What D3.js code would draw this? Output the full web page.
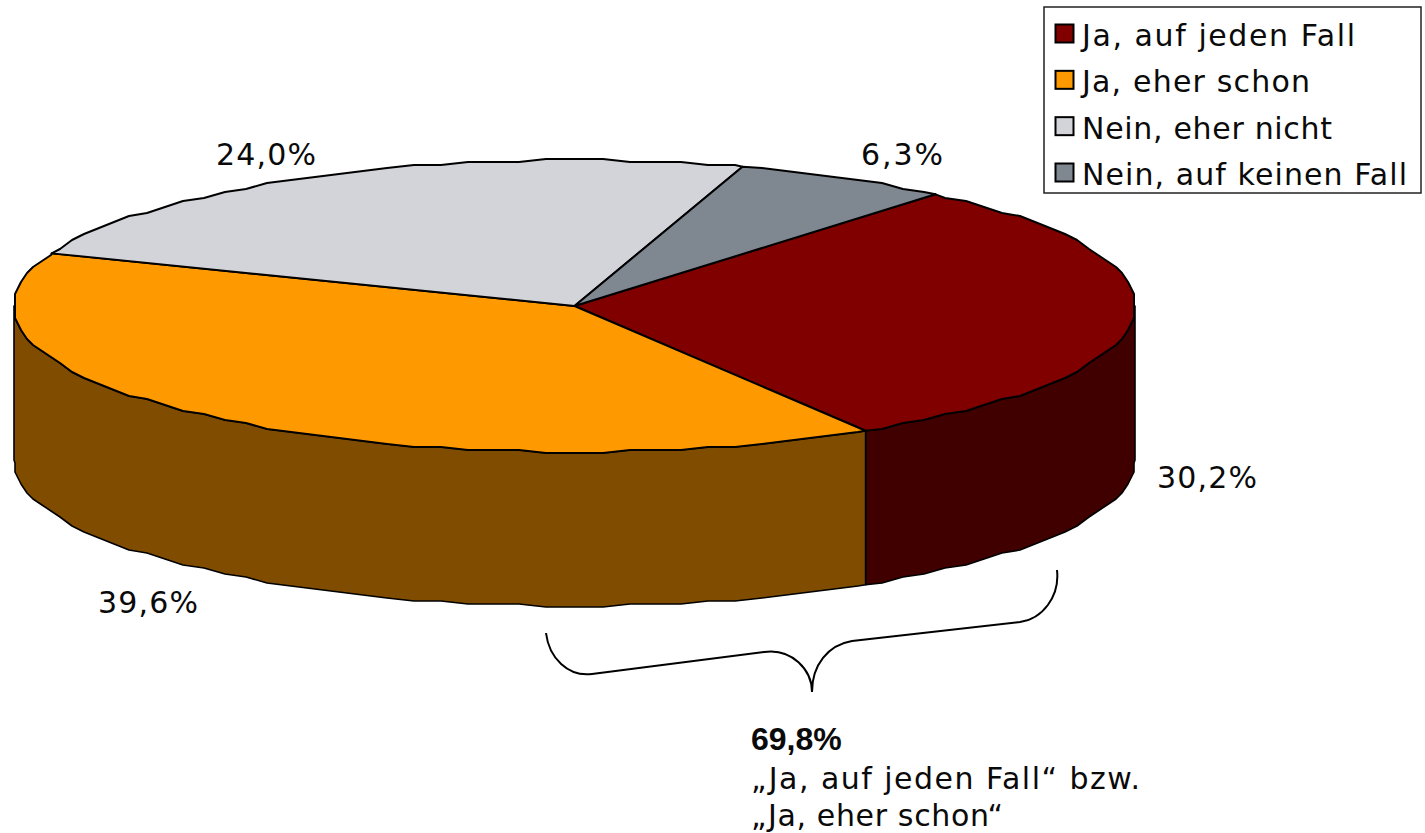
<!DOCTYPE html>
<html><head><meta charset="utf-8">
<script src="https://cdn.jsdelivr.net/npm/d3@7"></script>
<style>html,body{margin:0;padding:0;background:#fff}svg{display:block}
text{font-family:"DejaVu Sans",sans-serif;fill:#0a0a0a}</style></head>
<body><div id="chart"></div>
<script>
const categories = ["Ja, auf jeden Fall","Ja, eher schon","Nein, eher nicht","Nein, auf keinen Fall"];
const values = [30.2,39.6,24.0,6.3];
const valueLabels = ["30,2%","39,6%","24,0%","6,3%"];
const topColors = ["#800000","#FF9900","#D2D4D9","#7F8791"];
const sideColors = ["#400000","#804D00","#696969","#404040"];
const sumLabel = "69,8%";
const sumLines = ["„Ja, auf jeden Fall“ bzw.","„Ja, eher schon“"];

const W=1425,H=833;
const cx=574.5,cy=306,rx=560.5,ry=146,depth=154;
const svg=d3.select("#chart").append("svg").attr("width",W).attr("height",H);
const start=40.1*Math.PI/180;
const pie=d3.pie().value(d=>d).sort(null).startAngle(start).endAngle(start+2*Math.PI);
const arcs=pie(values);
// unit-circle projection scales; rounded to a coarse grid like the source's low-resolution outline
const grid=3;
const snap=v=>Math.round(v/grid)*grid;
const sx=d3.scaleLinear().domain([-1,1]).range([cx-rx,cx+rx]);
const sy=d3.scaleLinear().domain([-1,1]).range([cy-ry,cy+ry]);
const px=a=>Math.max(cx-rx,Math.min(cx+rx,snap(sx(Math.sin(a)))));
const py=a=>snap(sy(-Math.cos(a)));
const line=d3.line();
const step=2*Math.PI/130;
const samples=(a0,a1)=>{
  const first=Math.ceil(a0/step), last=Math.floor(a1/step);
  return d3.range(first,last+1).map(k=>k*step);
};
// exact end points so the slice edges stay on true angles
const ex=a=>sx(Math.sin(a)), ey=a=>sy(-Math.cos(a));
const outline=(a0,a1)=>[[ex(a0),ey(a0)]].concat(samples(a0,a1).map(a=>[px(a),py(a)]),[[ex(a1),ey(a1)]]);

// walls (visible front half only)
const frontA=Math.PI/2, frontB=3*Math.PI/2;
arcs.forEach((d,i)=>{
  [0,2*Math.PI].forEach(off=>{
    const a0=Math.max(d.startAngle,frontA+off), a1=Math.min(d.endAngle,frontB+off);
    if(a1<=a0) return;
    const o=outline(a0,a1);
    const pts=o.concat(o.slice().reverse().map(p=>[p[0],p[1]+depth]));
    svg.append("path").attr("d",line(pts)+"Z").attr("fill",sideColors[i]).attr("stroke","#000").attr("stroke-width",1.6).attr("stroke-linejoin","round");
  });
});
// top faces
arcs.forEach((d,i)=>{
  const pts=[[sx(0),sy(0)]].concat(outline(d.startAngle,d.endAngle));
  svg.append("path").attr("d",line(pts)+"Z").attr("fill",topColors[i]).attr("stroke","#000").attr("stroke-width",2).attr("stroke-linejoin","round");
});

const fit=(sel,w)=>sel.attr("textLength",w).attr("lengthAdjust","spacing");
// value labels
const labelPos=[[1157,488,100],[98,613,100],[216,165,100],[861,165,82]];
valueLabels.forEach((t,i)=>fit(svg.append("text").attr("x",labelPos[i][0]).attr("y",labelPos[i][1]).attr("font-size",30).text(t),labelPos[i][2]));

// legend
const lg=svg.append("g");
lg.append("rect").attr("x",1044).attr("y",7).attr("width",377).attr("height",186).attr("fill","#fff").attr("stroke","#222").attr("stroke-width",1.5);
const ly=d3.scalePoint().domain(categories).range([33,172]);
const legendW=[273,228,250,325];
categories.forEach((c,i)=>{
  lg.append("rect").attr("x",1055.5).attr("y",ly(c)-8.5).attr("width",18).attr("height",18).attr("fill",topColors[i]).attr("stroke","#000").attr("stroke-width",2);
  fit(lg.append("text").attr("x",1082).attr("y",ly(c)+13).attr("font-size",30).text(c),legendW[i]);
});

// brace
const b=d3.path();
b.moveTo(546,633);
b.bezierCurveTo(549,658,568,677,592,674);
b.lineTo(764,652);
b.bezierCurveTo(792,648,812,670,812,692);
b.bezierCurveTo(812,665,828,645,852,641);
b.lineTo(1020,622);
b.bezierCurveTo(1042,619,1060,597,1057,570);
svg.append("path").attr("d",b.toString()).attr("fill","none").attr("stroke","#000").attr("stroke-width",2);

svg.append("text").attr("x",751).attr("y",750).attr("font-size",32).attr("font-weight","bold").style("font-family","'Liberation Sans',Arial,sans-serif").text(sumLabel);
const sumW=[389,252];
sumLines.forEach((t,i)=>fit(svg.append("text").attr("x",751).attr("y",789+i*37).attr("font-size",30).text(t),sumW[i]));
</script></body></html>
